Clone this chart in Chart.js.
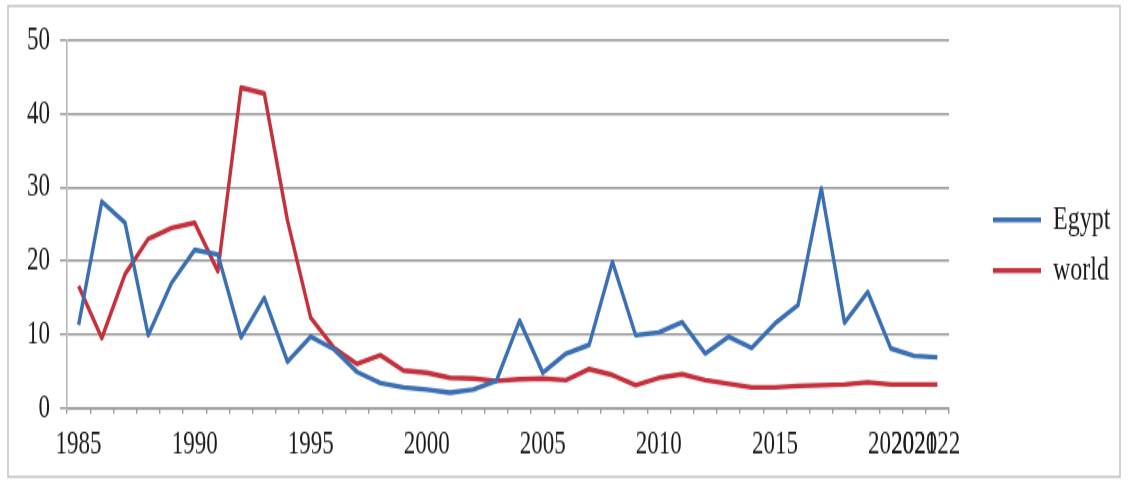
<!DOCTYPE html>
<html>
<head>
<meta charset="utf-8">
<script src="https://cdn.jsdelivr.net/npm/chart.js@4.4.1/dist/chart.umd.min.js"></script>
<style>
  html, body { margin: 0; padding: 0; background: #ffffff; overflow: hidden; }
  /* The figure is drawn at a reduced height and stretched vertically,
     which gives the tall, narrow lettering of the printed figure. */
  #wrap {
    position: absolute; left: 0; top: 0;
    width: 1129px; height: 332px;
    transform: scaleY(1.4488);
    transform-origin: 0 0;
  }
  #chart { display: block; width: 1129px; height: 332px; }
</style>
</head>
<body>
<div id="wrap"><canvas id="chart" width="1129" height="332"></canvas></div>
<script>
// Years on the category axis
const years = ['1985','1986','1987','1988','1989','1990','1991','1992','1993','1994',
  '1995','1996','1997','1998','1999','2000','2001','2002','2003','2004',
  '2005','2006','2007','2008','2009','2010','2011','2012','2013','2014',
  '2015','2016','2017','2018','2019','2020','2021','2022'];

// Years that carry a visible label under the axis
const labelledYears = ['1985','1990','1995','2000','2005','2010','2015','2020','2021','2022'];

// Annual rates (%)
const egypt = [11.3, 28.1, 25.2, 9.9, 17.0, 21.5, 20.9, 9.6, 15.0, 6.3,
  9.7, 8.0, 4.9, 3.4, 2.8, 2.5, 2.1, 2.5, 3.7, 11.9,
  4.8, 7.4, 8.6, 19.9, 9.9, 10.3, 11.7, 7.4, 9.7, 8.2,
  11.5, 14.0, 29.9, 11.6, 15.8, 8.1, 7.1, 6.9];

const world = [16.6, 9.5, 18.2, 23.0, 24.5, 25.2, 18.6, 43.6, 42.8, 25.5,
  12.3, 8.2, 6.0, 7.2, 5.1, 4.8, 4.1, 4.0, 3.7, 3.9,
  4.0, 3.8, 5.3, 4.5, 3.1, 4.1, 4.6, 3.8, 3.3, 2.8,
  2.8, 3.0, 3.1, 3.2, 3.5, 3.2, 3.2, 3.2];

// Value axis ticks
const yTicks = [0, 10, 20, 30, 40, 50];

const serif = '"Liberation Serif", "Times New Roman", serif';
const gridGray = '#969696';
const textColor = '#1a1a1a';

// White background and a thin frame around the whole figure
const framePlugin = {
  id: 'frame',
  beforeDraw(chart) {
    const ctx = chart.ctx;
    ctx.save();
    ctx.fillStyle = '#ffffff';
    ctx.fillRect(0, 0, chart.width, chart.height);
    ctx.strokeStyle = '#c8c8c8';
    ctx.lineWidth = 1.6;
    ctx.strokeRect(8, 4.1, 1112, 325);
    ctx.restore();
  }
};

new Chart(document.getElementById('chart'), {
  type: 'line',
  data: {
    labels: years,
    datasets: [
      {
        label: 'Egypt',
        data: egypt,
        borderColor: '#3a70b3',
        backgroundColor: '#3a70b3',
        borderWidth: 3.4,
        pointRadius: 0,
        tension: 0,
        borderJoinStyle: 'round',
        yAxisID: 'y'
      },
      {
        label: 'world',
        data: world,
        borderColor: '#c4303b',
        backgroundColor: '#c4303b',
        borderWidth: 3.4,
        pointRadius: 0,
        tension: 0,
        borderJoinStyle: 'round',
        yAxisID: 'y'
      }
    ]
  },
  options: {
    responsive: false,
    maintainAspectRatio: false,
    devicePixelRatio: 1,
    animation: false,
    events: [],
    layout: { padding: { top: 28, left: 17, right: 8.7, bottom: 2.8 } },
    plugins: {
      tooltip: { enabled: false },
      legend: {
        position: 'right',
        align: 'center',
        fullSize: false,
        // empty heading, used only as spacing above the entries
        title: { display: true, text: '', font: { size: 10 }, padding: { top: 17, bottom: 0 } },
        labels: {
          usePointStyle: true,
          pointStyle: 'line',
          pointStyleWidth: 48,
          padding: 11,
          color: textColor,
          font: { family: serif, size: 24 }
        }
      }
    },
    scales: {
      x: {
        type: 'category',
        offset: true,
        grid: {
          display: true,
          drawOnChartArea: false,
          drawTicks: true,
          tickLength: 4,
          offset: true,
          color: gridGray,
          lineWidth: 1.4
        },
        border: { display: true, color: gridGray, width: 1.4 },
        ticks: {
          autoSkip: false,
          maxRotation: 0,
          minRotation: 0,
          padding: 8,
          color: textColor,
          font: { family: serif, size: 23 },
          callback(value) {
            const y = this.getLabelForValue(value);
            return labelledYears.includes(y) ? y : '';
          }
        }
      },
      y: {
        type: 'linear',
        position: 'left',
        min: 0,
        max: 50,
        afterBuildTicks(scale) {
          scale.ticks = yTicks.map(v => ({ value: v }));
        },
        grid: {
          color: gridGray,
          lineWidth: 1.4,
          tickLength: 7,
          drawTicks: true
        },
        border: { display: true, color: '#b8b8b8', width: 1.6 },
        ticks: {
          padding: 10,
          color: textColor,
          font: { family: serif, size: 23 }
        }
      },
      gap: {
        type: 'linear',
        axis: 'y',
        position: 'right',
        display: true,
        grid: { display: false, drawTicks: false },
        border: { display: false },
        ticks: { display: false },
        afterFit(scale) { scale.width = 33; }
      }
    }
  },
  plugins: [framePlugin]
});
</script>
</body>
</html>
